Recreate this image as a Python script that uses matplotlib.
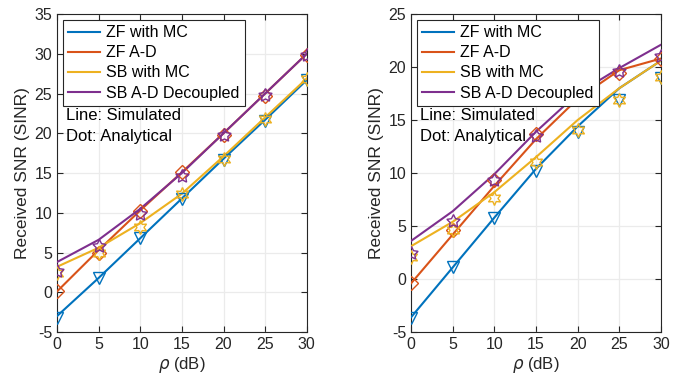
import matplotlib.pyplot as plt
import numpy as np

plt.rcParams['font.family'] = ['Liberation Sans', 'DejaVu Sans']
plt.rcParams['axes.unicode_minus'] = False

rho = [0, 5, 10, 15, 20, 25, 30]
labels = ['ZF with MC', 'ZF A-D', 'SB with MC', 'SB A-D Decoupled']
colors = ['#0072BD', '#D95319', '#EDB120', '#7E2F8E']
markers = ['v', 'D', (6, 1, 0), (5, 1, 0)]
msizes = [9, 7, 10, 10]

# left panel: simulated (lines) and analytical (markers)
sim_left = [
    [-3.0, 1.8, 6.8, 11.8, 16.8, 21.7, 26.7],
    [0.1, 5.3, 10.3, 15.1, 20.0, 25.0, 30.0],
    [3.2, 5.6, 8.7, 12.4, 17.1, 22.0, 26.9],
    [3.8, 6.6, 10.5, 15.0, 20.0, 25.0, 30.0],
]
ana_left = [
    [-3.3, 1.8, 6.8, 11.7, 16.6, 21.6, 26.7],
    [0.1, 4.9, 10.2, 15.1, 19.8, 24.7, 29.9],
    [2.4, 4.9, 8.2, 12.3, 16.8, 21.8, 26.8],
    [2.7, 5.8, 9.8, 14.6, 19.8, 24.8, 29.9],
]

# right panel
sim_right = [
    [-3.6, 1.1, 5.8, 10.4, 14.4, 18.0, 20.6],
    [-0.4, 4.2, 8.8, 13.2, 17.0, 19.7, 20.8],
    [3.1, 5.4, 8.2, 11.5, 15.0, 18.0, 20.6],
    [3.6, 6.4, 9.9, 13.9, 17.5, 19.9, 22.1],
]
ana_right = [
    [-3.7, 1.1, 5.8, 10.2, 13.9, 16.9, 19.0],
    [-0.4, 4.6, 9.3, 13.7, 17.5, 19.4, 20.8],
    [2.1, 4.6, 7.6, 11.0, 14.1, 16.9, 19.1],
    [2.5, 5.5, 9.3, 13.5, 17.6, 19.6, 21.0],
]


def panel(ax, sim, ana, ylim, yticks):
    for i in range(4):
        ax.plot(rho, sim[i], color=colors[i], lw=1.5, label=labels[i], zorder=3)
    for i in range(4):
        ax.plot(rho, ana[i], ls='none', marker=markers[i], ms=msizes[i],
                mfc='none', mec=colors[i], mew=1.0, zorder=4)
    ax.set_xlim(0, 30)
    ax.set_ylim(*ylim)
    ax.set_xticks(rho)
    ax.set_yticks(yticks)
    ax.grid(True, color='#ebebeb', lw=0.9)
    ax.set_axisbelow(True)
    ax.tick_params(direction='in', labelsize=11.5, length=4, colors='#262626',
                   top=True, right=True)
    for s in ax.spines.values():
        s.set_color('#262626')
        s.set_linewidth(0.8)
    ax.set_xlabel(r'$\rho$ (dB)', fontsize=12, color='#262626', labelpad=2)
    ax.set_ylabel('Received SNR (SINR)', fontsize=12.5, color='#262626', labelpad=3)
    leg = ax.legend(loc='upper left', fontsize=11.5, fancybox=False, framealpha=1,
                    edgecolor='#262626', borderaxespad=0.35, handlelength=2.0,
                    labelspacing=0.32, borderpad=0.35, handletextpad=0.35)
    leg.get_frame().set_linewidth(0.8)
    leg.set_zorder(10)
    ax.text(0.035, 0.68, 'Line: Simulated', transform=ax.transAxes,
            fontsize=12, va='center', zorder=11)
    ax.text(0.035, 0.614, 'Dot: Analytical', transform=ax.transAxes,
            fontsize=12, va='center', zorder=11)


fig = plt.figure(figsize=(6.91, 3.79), dpi=100)
ax1 = fig.add_axes([0.0825, 0.124, 0.3615, 0.839])
ax2 = fig.add_axes([0.595, 0.124, 0.3615, 0.839])
panel(ax1, sim_left, ana_left, (-5, 35), range(-5, 36, 5))
panel(ax2, sim_right, ana_right, (-5, 25), range(-5, 26, 5))

fig.savefig('out.png', dpi=100)
